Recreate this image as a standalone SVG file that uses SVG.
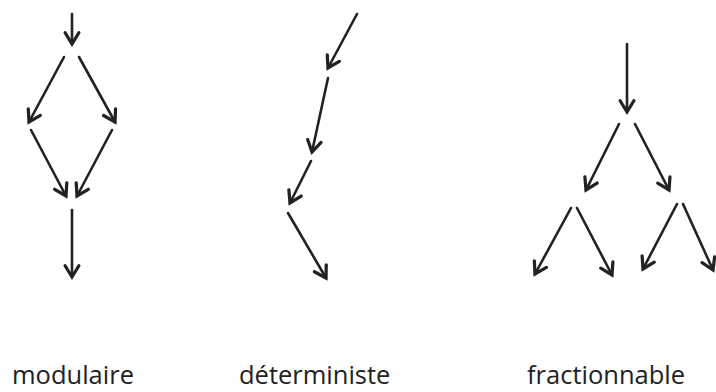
<svg xmlns="http://www.w3.org/2000/svg" width="716" height="392" viewBox="0 0 716 392">
<style>
.c line{stroke:#222;stroke-width:2.6;stroke-linecap:round;fill:none;marker-end:url(#ah)}
.lbl{font-family:"Open Sans","Noto Sans",sans-serif;font-size:25.5px;fill:#222}
</style>
<defs>
<marker id="ah" markerUnits="userSpaceOnUse" markerWidth="20" markerHeight="20" viewBox="-12 -8 14 16" refX="0" refY="0" orient="auto">
<path d="M-9,-5.5 L0,0 L-9,5.5" fill="none" stroke="#222" stroke-width="2.6" stroke-linecap="round" stroke-linejoin="miter"/>
</marker>
</defs>
<rect width="716" height="392" fill="#fff"/>
<g id="connectors" class="c">
<g id="modulaire-arrows">
<line x1="72" y1="14" x2="72" y2="44"/>
<line x1="64" y1="57" x2="29" y2="122"/>
<line x1="79" y1="57" x2="115" y2="122"/>
<line x1="31" y1="130" x2="66" y2="196"/>
<line x1="112" y1="130" x2="77" y2="196"/>
<line x1="72" y1="210" x2="72" y2="277"/>
</g>
<g id="deterministe-arrows">
<line x1="357" y1="14" x2="328" y2="68"/>
<line x1="328" y1="78" x2="312" y2="152"/>
<line x1="311" y1="161" x2="290" y2="203"/>
<line x1="288" y1="213" x2="326" y2="278"/>
</g>
<g id="fractionnable-arrows">
<line x1="627" y1="44" x2="627" y2="112"/>
<line x1="619" y1="124" x2="586" y2="190"/>
<line x1="635" y1="124" x2="669" y2="190"/>
<line x1="571" y1="208" x2="535" y2="274"/>
<line x1="577" y1="208" x2="612" y2="275"/>
<line x1="677" y1="204" x2="643" y2="269"/>
<line x1="683" y1="204" x2="713" y2="270"/>
</g>
</g>
<g id="label-modulaire"><text class="lbl" x="12" y="384">modulaire</text></g>
<g id="label-deterministe"><text class="lbl" x="239" y="384">déterministe</text></g>
<g id="label-fractionnable"><text class="lbl" x="527" y="384">fractionnable</text></g>
</svg>
